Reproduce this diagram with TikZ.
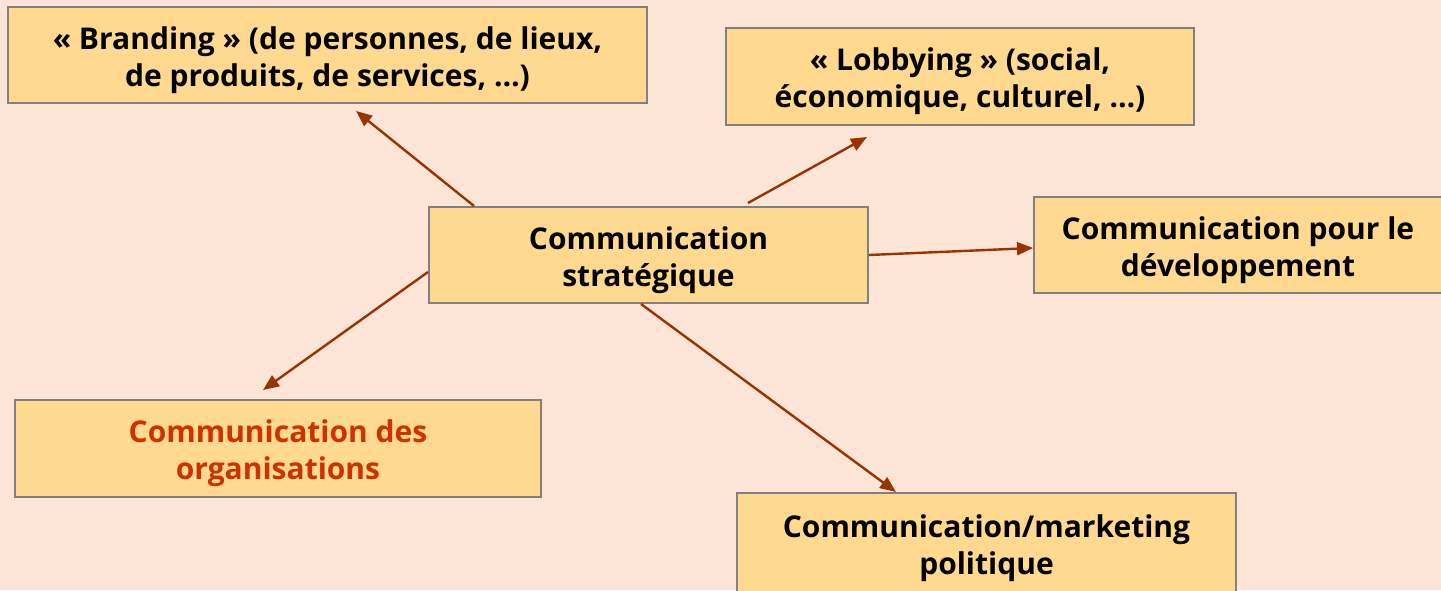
\documentclass[tikz,border=0pt]{standalone}
\usepackage{fontspec}
\setmainfont{Open Sans}
\usetikzlibrary{arrows.meta,calc}
\definecolor{bg}{HTML}{FCE4D6}
\definecolor{boxfill}{HTML}{FFD98F}
\definecolor{boxline}{HTML}{808080}
\definecolor{arrcol}{HTML}{993300}
\definecolor{redtxt}{HTML}{CC3300}
\begin{document}
\begin{tikzpicture}[x=1pt,y=1pt,
  boxtext/.style={align=center,font=\fontsize{30}{37}\selectfont\bfseries,inner sep=0pt,yshift=-5pt},
  frame/.style={draw=boxline,line width=2pt,fill=boxfill,rectangle,inner sep=0pt},
  box/.style={frame,label={[boxtext]center:#1}},
  redbox/.style={frame,label={[boxtext,text=redtxt]center:#1}},
  arr/.style={draw=arrcol,line width=2.4pt,-{Triangle[length=16pt,width=13pt]}}]
\useasboundingbox (0,0) rectangle (1441,590);
\clip (0,0) rectangle (1441,590);
\fill[bg] (0,0) rectangle (1441,590);
\node[box={« Branding » (de personnes, de lieux,\\ de produits, de services, …)},minimum width=639,minimum height=96] (brand) at (327.5,535) {};
\node[box={« Lobbying » (social,\\ économique, culturel, …)},minimum width=468,minimum height=97] (lobby) at (960,513.5) {};
\node[box={Communication\\ stratégique},minimum width=439,minimum height=96] (central) at (648.5,335) {};
\node[box={Communication pour le\\ développement},minimum width=408,minimum height=96] (dev) at (1238,345) {};
\node[redbox={Communication des\\ organisations},minimum width=526,minimum height=97] (org) at (278,141.5) {};
\node[box={Communication/marketing\\ politique},minimum width=499,minimum height=101] (pol) at (986.5,46.5) {};
\draw[arr] ([xshift=46]central.north west) -- ([xshift=349,yshift=-7]brand.south west);
\draw[arr] ([xshift=320,yshift=3]central.north west) -- ([xshift=142,yshift=-11]lobby.south west);
\draw[arr] (central.east) -- ([yshift=-3]dev.west);
\draw[arr] ([yshift=-17]central.west) -- ([xshift=249,yshift=9]org.north west);
\draw[arr] ([xshift=213]central.south west) -- ([xshift=160]pol.north west);
\end{tikzpicture}
\end{document}
